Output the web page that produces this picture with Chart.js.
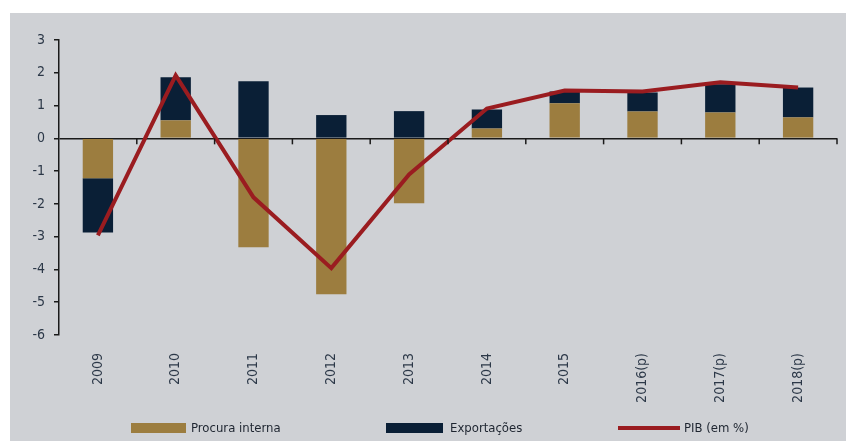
<!DOCTYPE html>
<html>
<head>
<meta charset="utf-8">
<script src="https://cdn.jsdelivr.net/npm/chart.js@4"></script>
<style>
  body { margin: 0; background: #fff; }
  #wrap { position: absolute; left: 10px; top: 13px; width: 836px; height: 428px; background: #cfd1d5; overflow: hidden; }
  #chart { position: absolute; left: 0; top: 0; }
  .lg { position: absolute; font: 13px "DejaVu Sans Condensed", "Liberation Sans Narrow", sans-serif; color: #1e2530; line-height: 14px; white-space: nowrap; }
  .sw { position: absolute; }
</style>
</head>
<body>
<div id="wrap">
  <canvas id="chart" width="836" height="410"></canvas>
  <div class="sw" style="left:121px;top:410px;width:55px;height:10px;background:#9c7d3f"></div>
  <div class="lg" style="left:181px;top:408px">Procura interna</div>
  <div class="sw" style="left:376px;top:410px;width:57px;height:10px;background:#0a1f36"></div>
  <div class="lg" style="left:440px;top:408px">Exportações</div>
  <div class="sw" style="left:608px;top:413px;width:62px;height:4px;background:#9a1c20"></div>
  <div class="lg" style="left:674px;top:408px">PIB (em %)</div>
</div>
<script>
const labels = ["2009", "2010", "2011", "2012", "2013", "2014", "2015", "2016(p)", "2017(p)", "2018(p)"];
const procuraInterna = [-1.22, 0.55, -3.32, -4.76, -1.98, 0.3, 1.07, 0.82, 0.79, 0.64];
const exportacoes = [-1.65, 1.31, 1.74, 0.71, 0.83, 0.58, 0.36, 0.58, 0.86, 0.91];
const pib = [-2.96, 1.92, -1.8, -3.96, -1.1, 0.91, 1.46, 1.43, 1.71, 1.55];

const axisColor = "#1a1a1a";
const tickFont = { family: "'DejaVu Sans Condensed', 'Liberation Sans Narrow', sans-serif", size: 14 };

// small tick marks on the zero line between categories
const zeroTicks = {
  id: "zeroTicks",
  afterDraw(chart) {
    const xs = chart.scales.x;
    const y0 = chart.scales.y.getPixelForValue(0);
    const c = chart.ctx;
    c.save();
    c.strokeStyle = axisColor;
    c.lineWidth = 1.5;
    for (let i = 0; i < labels.length; i++) {
      const x = xs.getPixelForValue(i + 0.5);
      c.beginPath();
      c.moveTo(x, y0);
      c.lineTo(x, y0 + 6);
      c.stroke();
    }
    c.restore();
  }
};

new Chart(document.getElementById("chart"), {
  type: "bar",
  data: {
    labels: labels,
    datasets: [
      {
        type: "line",
        label: "PIB (em %)",
        data: pib,
        borderColor: "#9a1c20",
        backgroundColor: "#9a1c20",
        borderWidth: 4,
        pointRadius: 0,
        tension: 0,
        order: 0
      },
      {
        label: "Procura interna",
        data: procuraInterna,
        backgroundColor: "#9c7d3f",
        categoryPercentage: 1,
        barPercentage: 0.39,
        order: 1
      },
      {
        label: "Exportações",
        data: exportacoes,
        backgroundColor: "#0a1f36",
        categoryPercentage: 1,
        barPercentage: 0.39,
        order: 1
      }
    ]
  },
  options: {
    responsive: false,
    animation: false,
    layout: { padding: { top: 27, right: 9, left: 0, bottom: 18 } },
    plugins: {
      legend: { display: false },
      tooltip: { enabled: false }
    },
    scales: {
      x: {
        stacked: true,
        grid: { display: false },
        border: { display: false },
        ticks: { font: tickFont, color: "#2c3848", minRotation: 90, maxRotation: 90, padding: 10 },
        afterFit: s => { s.height = 70; }
      },
      y: {
        stacked: true,
        min: -6,
        max: 3,
        ticks: { stepSize: 1, font: tickFont, color: "#2c3848", padding: 9 },
        grid: {
          color: ctx => ctx.tick && ctx.tick.value === 0 ? axisColor : "rgba(0,0,0,0)",
          lineWidth: 1.5,
          tickColor: axisColor,
          tickLength: 5
        },
        border: { display: true, color: axisColor, width: 1.5 },
        afterFit: s => { s.width = 49; }
      }
    }
  },
  plugins: [zeroTicks]
});
</script>
</body>
</html>
